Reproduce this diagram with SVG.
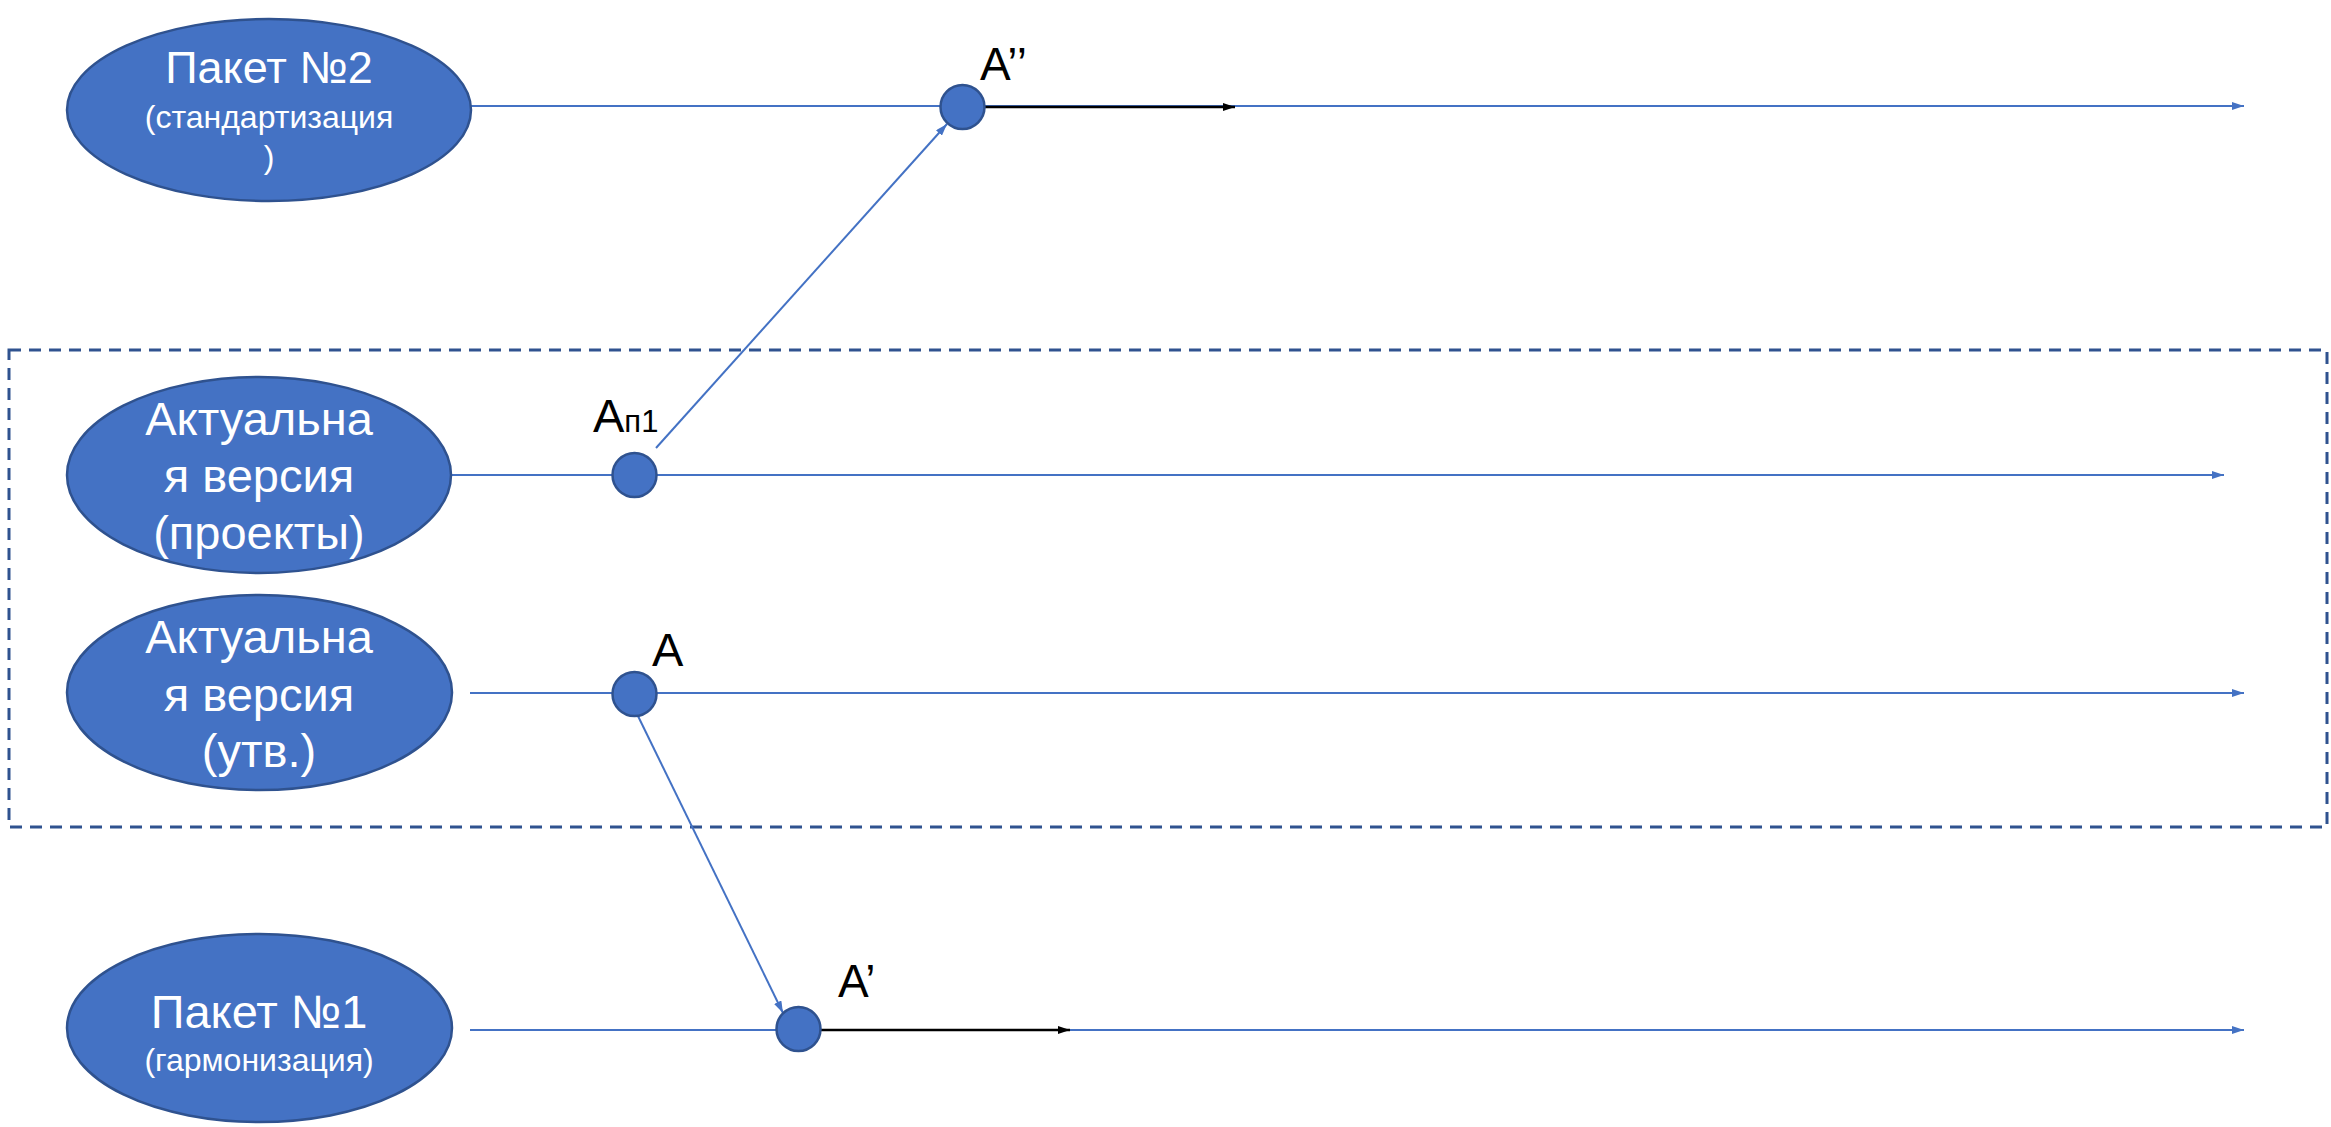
<svg xmlns="http://www.w3.org/2000/svg" width="2331" height="1127" viewBox="0 0 2331 1127">
<style>
.node{fill:#4472C4;stroke:#2F528F;stroke-width:2.5}
.nt{fill:#FFFFFF;font-family:"Liberation Sans",Arial,sans-serif;text-anchor:middle}
.lbl{fill:#000000;font-family:"Liberation Sans",Arial,sans-serif}
.ln{stroke:#4472C4;stroke-width:2;fill:none}
.blk{stroke:#000000;stroke-width:2.5;fill:none}
.frame{fill:none;stroke:#2F528F;stroke-width:3;stroke-dasharray:12,8}
</style>
<defs>
<marker id="ab" viewBox="0 0 12 8" refX="12" refY="4" markerWidth="12" markerHeight="8" markerUnits="userSpaceOnUse" orient="auto"><path d="M0,0 L12,4 L0,8 Z" fill="#4472C4"/></marker>
<marker id="ak" viewBox="0 0 12 8" refX="12" refY="4" markerWidth="12" markerHeight="8" markerUnits="userSpaceOnUse" orient="auto"><path d="M0,0 L12,4 L0,8 Z" fill="#000000"/></marker>
</defs>
<rect class="frame" x="9" y="350" width="2318" height="477"/>
<g id="connectors">
<line class="ln" x1="470" y1="106" x2="2244" y2="106" marker-end="url(#ab)"/>
<line class="ln" x1="451" y1="475" x2="2224" y2="475" marker-end="url(#ab)"/>
<line class="ln" x1="470" y1="693" x2="2244" y2="693" marker-end="url(#ab)"/>
<line class="ln" x1="470" y1="1030" x2="2244" y2="1030" marker-end="url(#ab)"/>
<line class="ln" x1="656" y1="448" x2="947" y2="124" marker-end="url(#ab)"/>
<line class="ln" x1="637" y1="714" x2="783" y2="1013" marker-end="url(#ab)"/>
<line class="blk" x1="984" y1="107" x2="1235" y2="107" marker-end="url(#ak)"/>
<line class="blk" x1="820" y1="1030" x2="1070" y2="1030" marker-end="url(#ak)"/>
</g>
<g id="node-paket2">
<ellipse class="node" cx="269" cy="110" rx="202" ry="91"/>
<text class="nt" x="269" y="83" font-size="45">Пакет №2</text>
<text class="nt" x="269" y="128" font-size="32">(стандартизация</text>
<text class="nt" x="269" y="168" font-size="32">)</text>
</g>
<g id="node-proekty">
<ellipse class="node" cx="259" cy="475" rx="192" ry="98"/>
<text class="nt" x="259" y="435" font-size="47">Актуальна</text>
<text class="nt" x="259" y="492" font-size="47">я версия</text>
<text class="nt" x="259" y="549" font-size="47">(проекты)</text>
</g>
<g id="node-utv">
<ellipse class="node" cx="259.5" cy="692.5" rx="192.5" ry="97.5"/>
<text class="nt" x="259" y="653" font-size="47">Актуальна</text>
<text class="nt" x="259" y="711" font-size="47">я версия</text>
<text class="nt" x="259" y="767" font-size="47">(утв.)</text>
</g>
<g id="node-paket1">
<ellipse class="node" cx="259.5" cy="1028" rx="192.5" ry="94"/>
<text class="nt" x="259" y="1028" font-size="47">Пакет №1</text>
<text class="nt" x="259" y="1071" font-size="32">(гармонизация)</text>
</g>
<g id="point-a2">
<circle class="node" cx="962.5" cy="107" r="22"/>
<text class="lbl" x="980" y="80" font-size="46">A’’</text>
</g>
<g id="point-ap1">
<circle class="node" cx="634.5" cy="475" r="22"/>
<text class="lbl" x="593" y="432" font-size="47">A<tspan font-size="31">п1</tspan></text>
</g>
<g id="point-a">
<circle class="node" cx="634.5" cy="694" r="22"/>
<text class="lbl" x="652" y="666" font-size="47">A</text>
</g>
<g id="point-a1">
<circle class="node" cx="798.5" cy="1029" r="22"/>
<text class="lbl" x="838" y="997" font-size="46">A’</text>
</g>
</svg>
